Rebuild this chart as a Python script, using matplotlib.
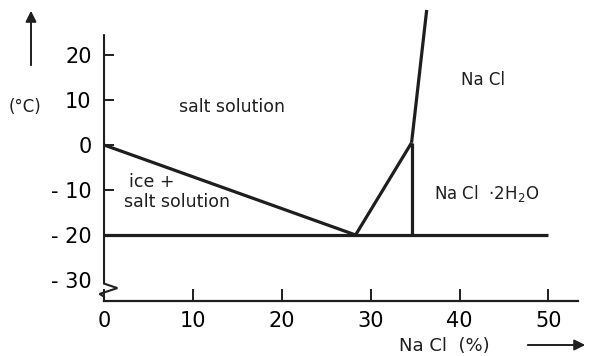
import numpy as np
import matplotlib.pyplot as plt

# phase boundaries (NaCl %, temperature degC)
ice_x = [0, 28.3]
ice_y = [0, -20]
eutectic_x = [0, 50]
eutectic_y = [-20, -20]
hydrate_x = [28.3, 34.6]
hydrate_y = [-20, 0.5]
peritectic_x = [34.6, 34.6]
peritectic_y = [-20, 0.5]
salt_x = [34.6, 36.3]
salt_y = [0.5, 30]

xticks = [0, 10, 20, 30, 40, 50]
yticks = [20, 10, 0, -10, -20, -30]
ylabels = ['20', '10', '0', '- 10', '- 20', '- 30']

region_labels = ['salt solution', 'ice +', 'salt solution', 'Na Cl', 'Na Cl  ·2H$_2$O']
region_x = [14.4, 5.4, 8.2, 42.6, 43.0]
region_y = [8.4, -8.2, -12.7, 14.4, -10.7]
region_size = [12.5, 12.5, 12.5, 12, 12]

ink = '#1e1e1e'

fig = plt.figure(figsize=(5.89, 3.56), dpi=100)
ax = fig.add_axes([0.1766, 0.1545, 0.981 - 0.1766, 0.972 - 0.1545])
ax.set_xlim(0, 53.3)
ax.set_ylim(-34.67, 30)

for s in ['top', 'right', 'left']:
    ax.spines[s].set_visible(False)
ax.spines['bottom'].set_linewidth(1.6)
ax.spines['bottom'].set_color(ink)

# left axis drawn by hand so it can carry the break mark
ax.plot([0, 0, 1.5, -0.5, 0, 0], [24.4, -30.8, -31.8, -33.1, -33.7, -34.67],
        color=ink, lw=1.5, clip_on=False, solid_joinstyle='miter')

for xs, ys in [(ice_x, ice_y), (eutectic_x, eutectic_y), (hydrate_x, hydrate_y),
               (peritectic_x, peritectic_y), (salt_x, salt_y)]:
    ax.plot(xs, ys, color=ink, lw=2.3, clip_on=False, solid_capstyle='butt')

ax.set_xticks(xticks)
ax.set_xticklabels([str(t) for t in xticks])
ax.set_yticks(yticks)
ax.set_yticklabels(ylabels)
ax.tick_params(axis='x', direction='in', length=9, width=1.4, color=ink,
               labelsize=15, pad=7)
ax.tick_params(axis='y', direction='in', length=7, width=1.4, color=ink,
               labelsize=15, pad=9)
ax.yaxis.get_major_ticks()[-1].tick1line.set_visible(False)

for lab, x, y, fs in zip(region_labels, region_x, region_y, region_size):
    ax.text(x, y, lab, ha='center', va='center', fontsize=fs, color=ink)

fig.text(25 / 589, 1 - 107 / 356, '(°C)', ha='center', va='center', fontsize=12, color=ink)
fig.text(444 / 589, 1 - 346 / 356, 'Na Cl  (%)', ha='center', va='center', fontsize=13, color=ink)

ax.annotate('', xy=(31 / 589, 1 - 8 / 356), xytext=(31 / 589, 1 - 68 / 356),
            xycoords='figure fraction', textcoords='figure fraction',
            arrowprops=dict(arrowstyle='-|>', color=ink, lw=1.4, mutation_scale=16))
ax.annotate('', xy=(588 / 589, 1 - 345 / 356), xytext=(525 / 589, 1 - 345 / 356),
            xycoords='figure fraction', textcoords='figure fraction',
            arrowprops=dict(arrowstyle='-|>', color=ink, lw=1.4, mutation_scale=16))

fig.savefig('out.png', dpi=100)
